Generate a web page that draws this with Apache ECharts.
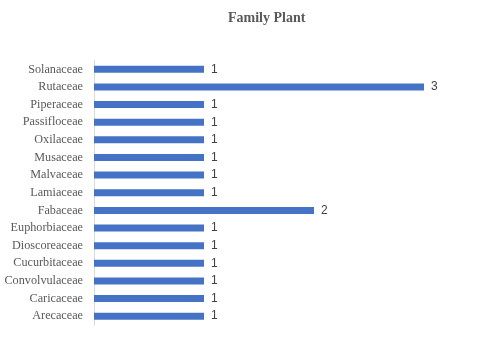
<!DOCTYPE html>
<html>
<head>
<meta charset="utf-8">
<style>html,body{margin:0;padding:0;background:#fff}#c{width:480px;height:342px}</style>
<script src="https://cdn.jsdelivr.net/npm/echarts@6/dist/echarts.min.js"></script>
</head>
<body>
<div id="c"></div>
<script>
const categories = ["Arecaceae","Caricaceae","Convolvulaceae","Cucurbitaceae","Dioscoreaceae","Euphorbiaceae","Fabaceae","Lamiaceae","Malvaceae","Musaceae","Oxilaceae","Passifloceae","Piperaceae","Rutaceae","Solanaceae"];
const values = [1,1,1,1,1,1,2,1,1,1,1,1,1,3,1];
const chart = echarts.init(document.getElementById('c'));
chart.setOption({
  animation: false,
  title: {
    text: 'Family Plant',
    left: 223, top: 6,
    textStyle: {fontFamily: '"Liberation Serif", "Times New Roman", serif', fontWeight: 'bold', fontSize: 14, color: '#595959'}
  },
  grid: {left: 94, right: 56, top: 60.5, bottom: 17, containLabel: false},
  xAxis: {type: 'value', min: 0, max: 3, show: false},
  yAxis: {
    type: 'category', data: categories,
    axisLine: {show: true, lineStyle: {color: '#d9d9d9', width: 1}},
    axisTick: {show: false},
    axisLabel: {margin: 11, fontFamily: '"Liberation Serif", "Times New Roman", serif', fontSize: 12.2, color: '#595959'}
  },
  series: [{
    type: 'bar', data: values, barWidth: 7,
    itemStyle: {color: '#4472c4'},
    label: {show: true, position: 'right', distance: 7, fontFamily: '"Liberation Sans", Arial, sans-serif', fontSize: 12, color: '#404040'}
  }]
});
</script>
</body>
</html>
